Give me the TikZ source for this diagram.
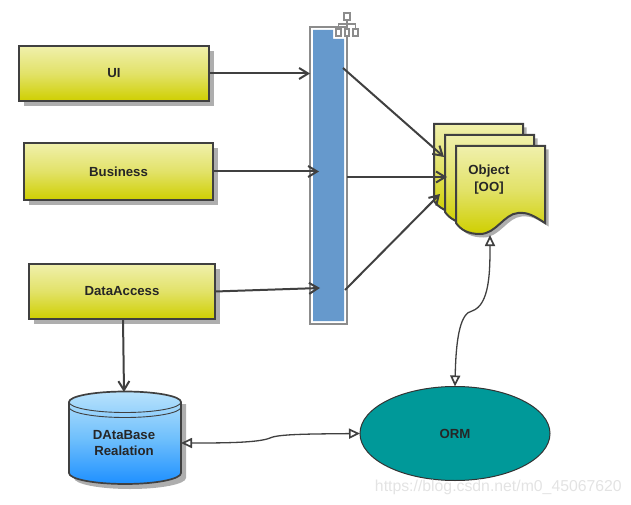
\documentclass[tikz,border=0pt]{standalone}
\usepackage{fontspec}
\setmainfont{Liberation Sans}
\usetikzlibrary{arrows.meta,shadows,shapes.geometric}
\definecolor{edge}{HTML}{404040}
\definecolor{ytop}{HTML}{F0F0AC}
\definecolor{ymid}{HTML}{E2E268}
\definecolor{ybot}{HTML}{CFCF00}
\definecolor{shad}{HTML}{AEAEAE}
\definecolor{barblue}{HTML}{6699CC}
\definecolor{framegrey}{HTML}{8C8C8C}
\definecolor{teal2}{HTML}{009999}
\definecolor{btop}{HTML}{B8E2FC}
\definecolor{bmid}{HTML}{70C0FC}
\definecolor{bbot}{HTML}{1E90FF}
\tikzset{
  lbl/.style={font=\bfseries\fontsize{13.2}{16}\selectfont,text=black!85,align=center,inner sep=0pt},
  layerbox/.style={rectangle,draw=edge,line width=2pt,top color=ytop,bottom color=ybot,middle color=ymid,
    outer sep=0pt,inner sep=0pt,drop shadow={shadow xshift=5pt,shadow yshift=-5pt,fill=shad,opacity=1}},
  link/.style={draw=edge,line width=2pt,-{Straight Barb[length=9pt,width=11pt,line width=2pt]}},
  biway/.style={draw=edge,line width=1.3pt,{Triangle[fill=white,length=11pt,width=10pt,line width=1.7pt]}-{Triangle[fill=white,length=11pt,width=10pt,line width=1.7pt]}},
  docsheet/.style={draw=edge,line width=2pt,top color=ytop,bottom color=ybot,middle color=ymid},
  docshadow/.style={fill=shad},
  iconpart/.style={draw=framegrey,line width=1.6pt,fill=white},
}
\newcommand{\docpath}[2]{(#1,#2) -- (#1+89,#2) -- (#1+89,#2+77) .. controls (#1+78,#2+70) and (#1+72,#2+66) .. (#1+62,#2+67) .. controls (#1+48,#2+68) and (#1+40,#2+88) .. (#1+24,#2+88) .. controls (#1+12,#2+88) and (#1+5,#2+84) .. (#1,#2+77) -- cycle}
\begin{document}
\begin{tikzpicture}[x=1pt,y=-1pt]
\useasboundingbox (0,0) rectangle (631,505);
% layer boxes
\node[layerbox,lbl,minimum width=190pt,minimum height=55pt] (ui) at (114,73.5) {UI};
\node[layerbox,lbl,minimum width=189pt,minimum height=57pt] (business) at (118.5,171.5) {Business};
\node[layerbox,lbl,minimum width=186pt,minimum height=55pt] (dataaccess) at (122,291.5) {DataAccess};
% bar
\node[rectangle,draw=framegrey,line width=2pt,fill=white,minimum width=37pt,minimum height=297pt,outer sep=0pt,inner sep=0pt] (bar) at (328.5,175.5) {};
\fill[barblue] (313,30) -- (333,30) -- (333,39) -- (344,39) -- (344,321) -- (313,321) -- cycle;
% org icon
\draw[framegrey,line width=1.6pt] (347,20) -- (347,29) (338.5,29) -- (338.5,24) -- (355.5,24) -- (355.5,29);
\node[iconpart,minimum width=5.5pt,minimum height=7pt,inner sep=0pt] (icontop) at (347,16.5) {};
\node[iconpart,minimum width=4.5pt,minimum height=7pt,inner sep=0pt] (iconl) at (338.5,32.5) {};
\node[iconpart,minimum width=4.5pt,minimum height=7pt,inner sep=0pt] (iconm) at (347,32.5) {};
\node[iconpart,minimum width=4.5pt,minimum height=7pt,inner sep=0pt] (iconr) at (355.5,32.5) {};
% object stack
\fill[docshadow] \docpath{437.5}{127.5};
\draw[docsheet] \docpath{434}{124};
\fill[docshadow] \docpath{448.5}{138.5};
\draw[docsheet] \docpath{445}{135};
\fill[docshadow] \docpath{459.5}{149.5};
\draw[docsheet] \docpath{456}{146};
\node[lbl] (object) at (489,180) {Object\\[1pt]{[OO]}};
\coordinate (objin1) at (444,157);
\coordinate (objin2) at (447,177);
\coordinate (objin3) at (440,194);
\coordinate (objbot) at (490,235);
% database
\fill[shad] (74,404) -- (186,404) -- (186,478) arc[start angle=0,end angle=180,x radius=56,y radius=11] -- cycle;
\path[draw=edge,line width=1.7pt,top color=btop,bottom color=bbot,middle color=bmid]
  (69,402) arc[start angle=180,end angle=360,x radius=56,y radius=10.5] -- (181,473) arc[start angle=0,end angle=180,x radius=56,y radius=11] -- cycle;
\draw[edge,line width=.9pt] (69,402) arc[start angle=180,end angle=0,x radius=56,y radius=10.5];
\draw[edge,line width=.9pt] (69,407) arc[start angle=180,end angle=0,x radius=56,y radius=10.5];
\node[lbl] (db) at (124,443) {DAtaBase\\Realation};
\coordinate (dbtop) at (124,392);
\coordinate (dbright) at (181,443);
% ORM
\node[ellipse,draw=black!80,line width=1pt,fill=teal2,minimum width=190pt,minimum height=94pt,inner sep=0pt,outer sep=0pt,lbl] (orm) at (455,433.5) {ORM};
% bar anchor coordinates
\coordinate (uiend) at (310,73.5);
\coordinate (busend) at (319,171.5);
\coordinate (daend) at (320,288);
\coordinate (barout1) at (343,68);
\coordinate (barout2) at (347,177);
\coordinate (barout3) at (345,290);
% connectors
\draw[link] (ui.east) -- (uiend);
\draw[link] (business.east) -- (busend);
\draw[link] (dataaccess.east) -- (daend);
\draw[link] (barout1) -- (objin1);
\draw[link] (barout2) -- (objin2);
\draw[link] (barout3) -- (objin3);
\draw[link] (dataaccess.south) ++(1,0) -- (dbtop);
\draw[biway] (objbot) .. controls (490,270) and (490,305) .. (472,311) .. controls (461,313) and (456,335) .. (orm.north);
\draw[biway] (dbright) .. controls (220,443) and (258,443) .. (270,438) .. controls (278,434) and (310,434) .. (orm.west);
% watermark
\node[font=\fontsize{15.8}{17}\selectfont,text=black!11,inner sep=0pt,anchor=east] (mark) at (622,487) {https://blog.csdn.net/m0\_45067620};
\end{tikzpicture}
\end{document}
